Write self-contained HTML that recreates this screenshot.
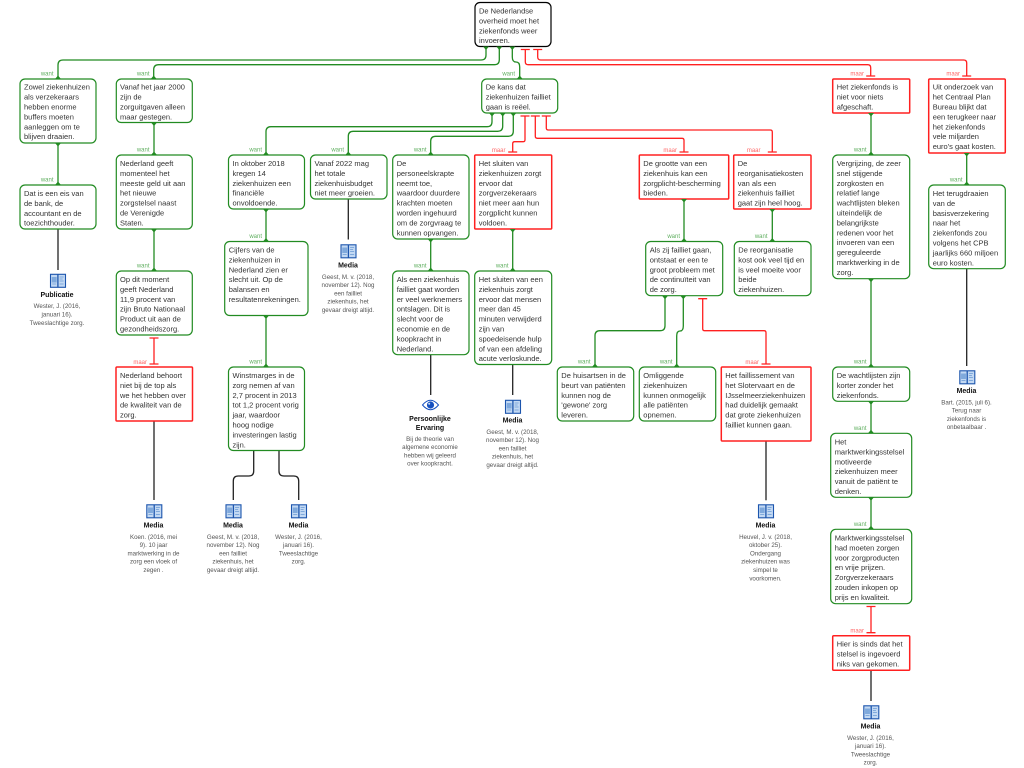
<!DOCTYPE html>
<html><head><meta charset="utf-8"><style>
html,body{margin:0;padding:0;background:#fff}
svg{display:block;filter:blur(.3px)}
text{font-family:"Liberation Sans",Arial,sans-serif}
.t{font-size:7.5px;fill:#333}
.w{font-size:6px;fill:#62b062;text-anchor:end}
.m{font-size:6px;fill:#ff6666;text-anchor:end}
.h{font-size:7px;font-weight:bold;fill:#111;text-anchor:middle}
.r{font-size:6.2px;fill:#555;text-anchor:middle}
.g{fill:#fff;stroke:#228b22;stroke-width:1.2}
.x{fill:#fff;stroke:#ff2020;stroke-width:1.5}
.k{fill:#fff;stroke:#000;stroke-width:1.2}
</style></head><body>
<svg width="1024" height="768" viewBox="0 0 1024 768" xmlns="http://www.w3.org/2000/svg">
<defs>
<g id="book"><rect x="0.5" y="0.8" width="15" height="13" fill="#c3d9f3" stroke="#1c55ad" stroke-width="1.1"/><path d="M7.9 0.8V13.8" stroke="#1c55ad" stroke-width="1.3"/><path d="M2.2 4h4v4.5h-4zM9.6 3.5h4M9.6 5.5h3M9.6 7.5h4M2.2 10.5h4M9.6 10.5h4" fill="#7fa9dc" stroke="#7fa9dc" stroke-width=".9"/></g>
</defs>

<!-- black connectors -->
<g fill="none" stroke="#222" stroke-width="1.3">
<path d="M58 229V270"/><path d="M154 421V500"/>
<path d="M253.7 450.5V471Q253.7 476 248.7 476H238.3Q233.3 476 233.3 481V500"/>
<path d="M279 450.5V471Q279 476 284 476H293.7Q298.7 476 298.7 481V500"/>
<path d="M348.3 199V239.5"/><path d="M430.7 354.7V395"/><path d="M512.7 364.5V395"/>
<path d="M766 441V500.3"/><path d="M966.7 268.7V366"/><path d="M871 670V701"/>
</g>

<!-- green connectors -->
<g fill="none" stroke="#228b22" stroke-width="1.3">
<path d="M486 46.5V55Q486 60 481 60H63Q58 60 58 65V79"/>
<path d="M499.3 46.5V59.7Q499.3 64.7 494.3 64.7H158.7Q153.7 64.7 153.7 69.7V79"/>
<path d="M512.3 46.5V57Q512.3 62 516 62Q519.7 62 519.7 67V79"/>
<path d="M58 143V185"/><path d="M154 122.5V155"/><path d="M154 229V271"/>
<path d="M492 113V121.7Q492 126.7 487 126.7H271Q266 126.7 266 131.7V155"/>
<path d="M502.7 113V126.3Q502.7 131.3 497.7 131.3H353.3Q348.3 131.3 348.3 136.3V155"/>
<path d="M513.3 113V131.3Q513.3 136.3 508.3 136.3H435.7Q430.7 136.3 430.7 141.3V155"/>
<path d="M266 209V241.5"/><path d="M266 315.5V367"/>
<path d="M430.7 239V271"/><path d="M512.7 229V271"/>
<path d="M684 199V241.5"/><path d="M772.3 209V241.5"/>
<path d="M665 295.7V325.7Q665 330.7 660 330.7H600Q595 330.7 595 335.7V367"/>
<path d="M683.3 295.7V326Q683.3 331 680 331Q676.7 331 676.7 336V367"/>
<path d="M871 113V155"/><path d="M871 278.7V367"/><path d="M871 401.3V433.3"/><path d="M871 497.3V529.3"/>
<path d="M966.7 153V185"/>
</g>

<!-- red connectors -->
<g fill="none" stroke="#ff2020" stroke-width="1.3">
<path d="M525.3 49.5V61.7Q525.3 64.7 528.3 64.7H867.7Q870.7 64.7 870.7 67.7V76"/>
<path d="M537.7 49.5V57Q537.7 60 540.7 60H963.7Q966.7 60 966.7 63V76"/>
<path d="M525 116V139.7Q525 141.7 523 141.7H514.7Q512.7 141.7 512.7 143.7V152"/>
<path d="M535.3 116V136.3Q535.3 138.3 537.3 138.3H682Q684 138.3 684 140.3V152"/>
<path d="M546.3 116V128Q546.3 130 548.3 130H770.3Q772.3 130 772.3 132V152"/>
<path d="M702.7 298.7V328.7Q702.7 330.7 704.7 330.7H764Q766 330.7 766 332.7V364"/>
<path d="M154 338V364"/>
<path d="M871 606.5V632.7"/>
<!-- T bars -->
<path d="M520.8 49.5H529.8M533.2 49.5H542.2M866.2 76H875.2M962.2 76H971.2"/>
<path d="M520.5 116H529.5M530.8 116H539.8M541.8 116H550.8M508.2 152H517.2M679.5 152H688.5M767.8 152H776.8"/>
<path d="M698.2 298.7H707.2M761.5 364H770.5M149.5 338H158.5M149.5 364H158.5M866.5 606.5H875.5M866.5 632.7H875.5"/>
</g>

<!-- nodes -->
<rect class="k" x="475" y="2.5" width="76" height="44" rx="5"/>
<rect class="g" x="20" y="79" width="76" height="64" rx="5"/>
<rect class="g" x="20" y="185" width="76" height="44" rx="5"/>
<rect class="g" x="116.3" y="79" width="76" height="43.5" rx="5"/>
<rect class="g" x="116.3" y="155" width="76" height="74" rx="5"/>
<rect class="g" x="116.3" y="271" width="76" height="64" rx="5"/>
<rect class="x" x="116" y="367" width="76.5" height="54" rx="1"/>
<rect class="g" x="228.5" y="155" width="76" height="54" rx="5"/>
<rect class="g" x="224.7" y="241.5" width="83.3" height="74" rx="5"/>
<rect class="g" x="228.5" y="367" width="76" height="83.5" rx="5"/>
<rect class="g" x="310.5" y="155" width="76.5" height="44" rx="5"/>
<rect class="g" x="392.7" y="155" width="76.3" height="84" rx="5"/>
<rect class="g" x="392.7" y="271" width="76.3" height="83.7" rx="5"/>
<rect class="x" x="474.7" y="155" width="77" height="74" rx="1"/>
<rect class="g" x="474.7" y="271" width="77" height="93.5" rx="5"/>
<rect class="g" x="481.7" y="79" width="76" height="34" rx="5"/>
<rect class="x" x="639.3" y="155" width="89.4" height="44" rx="1"/>
<rect class="x" x="733.7" y="155" width="77.3" height="54" rx="1"/>
<rect class="g" x="734.3" y="241.5" width="76.7" height="54.2" rx="5"/>
<rect class="g" x="645.7" y="241.5" width="77" height="54.2" rx="5"/>
<rect class="g" x="557.3" y="367" width="76.4" height="54" rx="5"/>
<rect class="g" x="639.3" y="367" width="76.4" height="54" rx="5"/>
<rect class="x" x="721.3" y="367" width="89.7" height="74" rx="1"/>
<rect class="x" x="832.7" y="79" width="77" height="34" rx="1"/>
<rect class="g" x="832.7" y="155" width="77" height="123.7" rx="5"/>
<rect class="g" x="832.7" y="367" width="77" height="34.3" rx="5"/>
<rect class="g" x="830.7" y="433.3" width="81" height="64" rx="5"/>
<rect class="g" x="830.7" y="529.3" width="81" height="74.4" rx="5"/>
<rect class="x" x="832.7" y="635.7" width="77" height="34.6" rx="1"/>
<rect class="x" x="928.7" y="79" width="76.6" height="74" rx="1"/>
<rect class="g" x="928.7" y="185" width="76.6" height="83.7" rx="5"/>

<!-- flares -->
<path fill="#228b22" d="M483 46.5h6l-3 3.5zM496.3 46.5h6l-3 3.5zM509.3 46.5h6l-3 3.5zM55 79h6l-3-3.5zM150.7 79h6l-3-3.5zM516.7 79h6l-3-3.5zM55 143h6l-3 3.5zM55 185h6l-3-3.5zM151 122.5h6l-3 3.5zM151 155h6l-3-3.5zM151 229h6l-3 3.5zM151 271h6l-3-3.5zM489 113h6l-3 3.5zM499.7 113h6l-3 3.5zM510.3 113h6l-3 3.5zM263 155h6l-3-3.5zM345.3 155h6l-3-3.5zM427.7 155h6l-3-3.5zM263 209h6l-3 3.5zM263 241.5h6l-3-3.5zM263 315.5h6l-3 3.5zM263 367h6l-3-3.5zM427.7 239h6l-3 3.5zM427.7 271h6l-3-3.5zM509.7 229h6l-3 3.5zM509.7 271h6l-3-3.5zM681 199h6l-3 3.5zM681 241.5h6l-3-3.5zM769.3 209h6l-3 3.5zM769.3 241.5h6l-3-3.5zM662 295.7h6l-3 3.5zM680.3 295.7h6l-3 3.5zM592 367h6l-3-3.5zM673.7 367h6l-3-3.5zM868 113h6l-3 3.5zM868 155h6l-3-3.5zM868 278.7h6l-3 3.5zM868 367h6l-3-3.5zM868 401.3h6l-3 3.5zM868 433.3h6l-3-3.5zM868 497.3h6l-3 3.5zM868 529.3h6l-3-3.5zM963.7 153h6l-3 3.5zM963.7 185h6l-3-3.5z"/>

<!-- node text -->
<text class="t" y="13.5"><tspan x="479">De Nederlandse</tspan><tspan x="479" dy="9.9">overheid moet het</tspan><tspan x="479" dy="9.9">ziekenfonds weer</tspan><tspan x="479" dy="9.9">invoeren.</tspan></text>
<text class="t" y="89.7"><tspan x="24">Zowel ziekenhuizen</tspan><tspan x="24" dy="9.9">als verzekeraars</tspan><tspan x="24" dy="9.9">hebben enorme</tspan><tspan x="24" dy="9.9">buffers moeten</tspan><tspan x="24" dy="9.9">aanleggen om te</tspan><tspan x="24" dy="9.9">blijven draaien.</tspan></text>
<text class="t" y="196"><tspan x="24">Dat is een eis van</tspan><tspan x="24" dy="9.9">de bank, de</tspan><tspan x="24" dy="9.9">accountant en de</tspan><tspan x="24" dy="9.9">toezichthouder.</tspan></text>
<text class="t" y="89.7"><tspan x="120">Vanaf het jaar 2000</tspan><tspan x="120" dy="9.9">zijn de</tspan><tspan x="120" dy="9.9">zorguitgaven alleen</tspan><tspan x="120" dy="9.9">maar gestegen.</tspan></text>
<text class="t" y="166"><tspan x="120">Nederland geeft</tspan><tspan x="120" dy="9.9">momenteel het</tspan><tspan x="120" dy="9.9">meeste geld uit aan</tspan><tspan x="120" dy="9.9">het nieuwe</tspan><tspan x="120" dy="9.9">zorgstelsel naast</tspan><tspan x="120" dy="9.9">de Verenigde</tspan><tspan x="120" dy="9.9">Staten.</tspan></text>
<text class="t" y="282"><tspan x="120">Op dit moment</tspan><tspan x="120" dy="9.9">geeft Nederland</tspan><tspan x="120" dy="9.9">11,9 procent van</tspan><tspan x="120" dy="9.9">zijn Bruto Nationaal</tspan><tspan x="120" dy="9.9">Product uit aan de</tspan><tspan x="120" dy="9.9">gezondheidszorg.</tspan></text>
<text class="t" y="378"><tspan x="120">Nederland behoort</tspan><tspan x="120" dy="9.9">niet bij de top als</tspan><tspan x="120" dy="9.9">we het hebben over</tspan><tspan x="120" dy="9.9">de kwaliteit van de</tspan><tspan x="120" dy="9.9">zorg.</tspan></text>
<text class="t" y="166"><tspan x="232.5">In oktober 2018</tspan><tspan x="232.5" dy="9.9">kregen 14</tspan><tspan x="232.5" dy="9.9">ziekenhuizen een</tspan><tspan x="232.5" dy="9.9">financiële</tspan><tspan x="232.5" dy="9.9">onvoldoende.</tspan></text>
<text class="t" y="252.5"><tspan x="228.7">Cijfers van de</tspan><tspan x="228.7" dy="9.9">ziekenhuizen in</tspan><tspan x="228.7" dy="9.9">Nederland zien er</tspan><tspan x="228.7" dy="9.9">slecht uit. Op de</tspan><tspan x="228.7" dy="9.9">balansen en</tspan><tspan x="228.7" dy="9.9">resultatenrekeningen.</tspan></text>
<text class="t" y="378"><tspan x="232.5">Winstmarges in de</tspan><tspan x="232.5" dy="9.9">zorg nemen af van</tspan><tspan x="232.5" dy="9.9">2,7 procent in 2013</tspan><tspan x="232.5" dy="9.9">tot 1,2 procent vorig</tspan><tspan x="232.5" dy="9.9">jaar, waardoor</tspan><tspan x="232.5" dy="9.9">hoog nodige</tspan><tspan x="232.5" dy="9.9">investeringen lastig</tspan><tspan x="232.5" dy="9.9">zijn.</tspan></text>
<text class="t" y="166"><tspan x="314.5">Vanaf 2022 mag</tspan><tspan x="314.5" dy="9.9">het totale</tspan><tspan x="314.5" dy="9.9">ziekenhuisbudget</tspan><tspan x="314.5" dy="9.9">niet meer groeien.</tspan></text>
<text class="t" y="166"><tspan x="396.7">De</tspan><tspan x="396.7" dy="9.9">personeelskrapte</tspan><tspan x="396.7" dy="9.9">neemt toe,</tspan><tspan x="396.7" dy="9.9">waardoor duurdere</tspan><tspan x="396.7" dy="9.9">krachten moeten</tspan><tspan x="396.7" dy="9.9">worden ingehuurd</tspan><tspan x="396.7" dy="9.9">om de zorgvraag te</tspan><tspan x="396.7" dy="9.9">kunnen opvangen.</tspan></text>
<text class="t" y="282"><tspan x="396.7">Als een ziekenhuis</tspan><tspan x="396.7" dy="9.9">failliet gaat worden</tspan><tspan x="396.7" dy="9.9">er veel werknemers</tspan><tspan x="396.7" dy="9.9">ontslagen. Dit is</tspan><tspan x="396.7" dy="9.9">slecht voor de</tspan><tspan x="396.7" dy="9.9">economie en de</tspan><tspan x="396.7" dy="9.9">koopkracht in</tspan><tspan x="396.7" dy="9.9">Nederland.</tspan></text>
<text class="t" y="166"><tspan x="478.7">Het sluiten van</tspan><tspan x="478.7" dy="9.9">ziekenhuizen zorgt</tspan><tspan x="478.7" dy="9.9">ervoor dat</tspan><tspan x="478.7" dy="9.9">zorgverzekeraars</tspan><tspan x="478.7" dy="9.9">niet meer aan hun</tspan><tspan x="478.7" dy="9.9">zorgplicht kunnen</tspan><tspan x="478.7" dy="9.9">voldoen.</tspan></text>
<text class="t" y="282"><tspan x="478.7">Het sluiten van een</tspan><tspan x="478.7" dy="9.9">ziekenhuis zorgt</tspan><tspan x="478.7" dy="9.9">ervoor dat mensen</tspan><tspan x="478.7" dy="9.9">meer dan 45</tspan><tspan x="478.7" dy="9.9">minuten verwijderd</tspan><tspan x="478.7" dy="9.9">zijn van</tspan><tspan x="478.7" dy="9.9">spoedeisende hulp</tspan><tspan x="478.7" dy="9.9">of van een afdeling</tspan><tspan x="478.7" dy="9.9">acute verloskunde.</tspan></text>
<text class="t" y="89.7"><tspan x="485.7">De kans dat</tspan><tspan x="485.7" dy="9.9">ziekenhuizen failliet</tspan><tspan x="485.7" dy="9.9">gaan is reëel.</tspan></text>
<text class="t" y="166"><tspan x="643.3">De grootte van een</tspan><tspan x="643.3" dy="9.9">ziekenhuis kan een</tspan><tspan x="643.3" dy="9.9">zorgplicht-bescherming</tspan><tspan x="643.3" dy="9.9">bieden.</tspan></text>
<text class="t" y="166"><tspan x="737.7">De</tspan><tspan x="737.7" dy="9.9">reorganisatiekosten</tspan><tspan x="737.7" dy="9.9">van als een</tspan><tspan x="737.7" dy="9.9">ziekenhuis failliet</tspan><tspan x="737.7" dy="9.9">gaat zijn heel hoog.</tspan></text>
<text class="t" y="252.5"><tspan x="738.3">De reorganisatie</tspan><tspan x="738.3" dy="9.9">kost ook veel tijd en</tspan><tspan x="738.3" dy="9.9">is veel moeite voor</tspan><tspan x="738.3" dy="9.9">beide</tspan><tspan x="738.3" dy="9.9">ziekenhuizen.</tspan></text>
<text class="t" y="252.5"><tspan x="649.7">Als zij failliet gaan,</tspan><tspan x="649.7" dy="9.9">ontstaat er een te</tspan><tspan x="649.7" dy="9.9">groot probleem met</tspan><tspan x="649.7" dy="9.9">de continuïteit van</tspan><tspan x="649.7" dy="9.9">de zorg.</tspan></text>
<text class="t" y="378"><tspan x="561.3">De huisartsen in de</tspan><tspan x="561.3" dy="9.9">beurt van patiënten</tspan><tspan x="561.3" dy="9.9">kunnen nog de</tspan><tspan x="561.3" dy="9.9">'gewone' zorg</tspan><tspan x="561.3" dy="9.9">leveren.</tspan></text>
<text class="t" y="378"><tspan x="643.3">Omliggende</tspan><tspan x="643.3" dy="9.9">ziekenhuizen</tspan><tspan x="643.3" dy="9.9">kunnen onmogelijk</tspan><tspan x="643.3" dy="9.9">alle patiënten</tspan><tspan x="643.3" dy="9.9">opnemen.</tspan></text>
<text class="t" y="378"><tspan x="725.3">Het faillissement van</tspan><tspan x="725.3" dy="9.9">het Slotervaart en de</tspan><tspan x="725.3" dy="9.9">IJsselmeerziekenhuizen</tspan><tspan x="725.3" dy="9.9">had duidelijk gemaakt</tspan><tspan x="725.3" dy="9.9">dat grote ziekenhuizen</tspan><tspan x="725.3" dy="9.9">failliet kunnen gaan.</tspan></text>
<text class="t" y="89.7"><tspan x="836.7">Het ziekenfonds is</tspan><tspan x="836.7" dy="9.9">niet voor niets</tspan><tspan x="836.7" dy="9.9">afgeschaft.</tspan></text>
<text class="t" y="166"><tspan x="836.7">Vergrijzing, de zeer</tspan><tspan x="836.7" dy="9.9">snel stijgende</tspan><tspan x="836.7" dy="9.9">zorgkosten en</tspan><tspan x="836.7" dy="9.9">relatief lange</tspan><tspan x="836.7" dy="9.9">wachtlijsten bleken</tspan><tspan x="836.7" dy="9.9">uiteindelijk de</tspan><tspan x="836.7" dy="9.9">belangrijkste</tspan><tspan x="836.7" dy="9.9">redenen voor het</tspan><tspan x="836.7" dy="9.9">invoeren van een</tspan><tspan x="836.7" dy="9.9">gereguleerde</tspan><tspan x="836.7" dy="9.9">marktwerking in de</tspan><tspan x="836.7" dy="9.9">zorg.</tspan></text>
<text class="t" y="378"><tspan x="836.7">De wachtlijsten zijn</tspan><tspan x="836.7" dy="9.9">korter zonder het</tspan><tspan x="836.7" dy="9.9">ziekenfonds.</tspan></text>
<text class="t" y="444.5"><tspan x="834.7">Het</tspan><tspan x="834.7" dy="9.9">marktwerkingsstelsel</tspan><tspan x="834.7" dy="9.9">motiveerde</tspan><tspan x="834.7" dy="9.9">ziekenhuizen meer</tspan><tspan x="834.7" dy="9.9">vanuit de patiënt te</tspan><tspan x="834.7" dy="9.9">denken.</tspan></text>
<text class="t" y="540.5"><tspan x="834.7">Marktwerkingsstelsel</tspan><tspan x="834.7" dy="9.9">had moeten zorgen</tspan><tspan x="834.7" dy="9.9">voor zorgproducten</tspan><tspan x="834.7" dy="9.9">en vrije prijzen.</tspan><tspan x="834.7" dy="9.9">Zorgverzekeraars</tspan><tspan x="834.7" dy="9.9">zouden inkopen op</tspan><tspan x="834.7" dy="9.9">prijs en kwaliteit.</tspan></text>
<text class="t" y="646.7"><tspan x="836.7">Hier is sinds dat het</tspan><tspan x="836.7" dy="9.9">stelsel is ingevoerd</tspan><tspan x="836.7" dy="9.9">niks van gekomen.</tspan></text>
<text class="t" y="89.7"><tspan x="932.7">Uit onderzoek van</tspan><tspan x="932.7" dy="9.9">het Centraal Plan</tspan><tspan x="932.7" dy="9.9">Bureau blijkt dat</tspan><tspan x="932.7" dy="9.9">een terugkeer naar</tspan><tspan x="932.7" dy="9.9">het ziekenfonds</tspan><tspan x="932.7" dy="9.9">vele miljarden</tspan><tspan x="932.7" dy="9.9">euro's gaat kosten.</tspan></text>
<text class="t" y="196"><tspan x="932.7">Het terugdraaien</tspan><tspan x="932.7" dy="9.9">van de</tspan><tspan x="932.7" dy="9.9">basisverzekering</tspan><tspan x="932.7" dy="9.9">naar het</tspan><tspan x="932.7" dy="9.9">ziekenfonds zou</tspan><tspan x="932.7" dy="9.9">volgens het CPB</tspan><tspan x="932.7" dy="9.9">jaarlijks 660 miljoen</tspan><tspan x="932.7" dy="9.9">euro kosten.</tspan></text>

<!-- connector labels -->
<text class="w" x="53.5" y="75.5">want</text>
<text class="w" x="53.5" y="181.5">want</text>
<text class="w" x="149.5" y="75.5">want</text>
<text class="w" x="149.5" y="151.5">want</text>
<text class="w" x="149.5" y="267.5">want</text>
<text class="w" x="515" y="75.5">want</text>
<text class="w" x="262" y="151.5">want</text>
<text class="w" x="262" y="238">want</text>
<text class="w" x="262" y="363.5">want</text>
<text class="w" x="344" y="151.5">want</text>
<text class="w" x="426.5" y="151.5">want</text>
<text class="w" x="426.5" y="267.5">want</text>
<text class="w" x="508.5" y="267.5">want</text>
<text class="w" x="680" y="238">want</text>
<text class="w" x="767.5" y="238">want</text>
<text class="w" x="590.5" y="363.5">want</text>
<text class="w" x="672.5" y="363.5">want</text>
<text class="w" x="866.5" y="151.5">want</text>
<text class="w" x="866.5" y="363.5">want</text>
<text class="w" x="866.5" y="430">want</text>
<text class="w" x="866.5" y="526">want</text>
<text class="w" x="962.5" y="181.5">want</text>
<text class="m" x="147" y="364">maar</text>
<text class="m" x="505.5" y="152">maar</text>
<text class="m" x="677" y="152">maar</text>
<text class="m" x="760.5" y="152">maar</text>
<text class="m" x="759" y="364">maar</text>
<text class="m" x="864" y="75.5">maar</text>
<text class="m" x="960" y="75.5">maar</text>
<text class="m" x="864" y="632.5">maar</text>

<!-- icons -->
<use href="#book" x="50" y="273.5"/>
<use href="#book" x="146.3" y="504"/>
<use href="#book" x="225.5" y="504"/>
<use href="#book" x="291" y="504"/>
<use href="#book" x="340.5" y="244"/>
<use href="#book" x="505" y="399.5"/>
<use href="#book" x="758" y="504"/>
<use href="#book" x="959.3" y="370"/>
<use href="#book" x="863.3" y="705"/>
<g transform="translate(422,399)"><path d="M0.5 6Q8.5 -3.5 16.5 6Q8.5 15.5 0.5 6Z" fill="#fff" stroke="#1550c0" stroke-width="1"/><circle cx="8.5" cy="6" r="3.6" fill="#1550c0"/><circle cx="7.2" cy="4.8" r="1" fill="#cfe0f5"/></g>

<!-- resource text -->
<text class="h" x="57" y="297">Publicatie</text>
<text class="r" y="308.2"><tspan x="57">Wester, J. (2016,</tspan><tspan x="57" dy="8.3">januari 16).</tspan><tspan x="57" dy="8.3">Tweeslachtige zorg.</tspan></text>

<text class="h" x="153.5" y="527.5">Media</text>
<text class="r" y="538.8"><tspan x="153.5">Koen. (2016, mei</tspan><tspan x="153.5" dy="8.3">9). 10 jaar</tspan><tspan x="153.5" dy="8.3">marktwerking in de</tspan><tspan x="153.5" dy="8.3">zorg een vloek of</tspan><tspan x="153.5" dy="8.3">zegen .</tspan></text>

<text class="h" x="233" y="527.5">Media</text>
<text class="r" y="538.8"><tspan x="233">Geest, M. v. (2018,</tspan><tspan x="233" dy="8.3">november 12). Nog</tspan><tspan x="233" dy="8.3">een failliet</tspan><tspan x="233" dy="8.3">ziekenhuis, het</tspan><tspan x="233" dy="8.3">gevaar dreigt altijd.</tspan></text>

<text class="h" x="298.5" y="527.5">Media</text>
<text class="r" y="538.8"><tspan x="298.5">Wester, J. (2016,</tspan><tspan x="298.5" dy="8.3">januari 16).</tspan><tspan x="298.5" dy="8.3">Tweeslachtige</tspan><tspan x="298.5" dy="8.3">zorg.</tspan></text>

<text class="h" x="348" y="267.5">Media</text>
<text class="r" y="278.8"><tspan x="348">Geest, M. v. (2018,</tspan><tspan x="348" dy="8.3">november 12). Nog</tspan><tspan x="348" dy="8.3">een failliet</tspan><tspan x="348" dy="8.3">ziekenhuis, het</tspan><tspan x="348" dy="8.3">gevaar dreigt altijd.</tspan></text>

<text class="h" x="430" y="421"><tspan x="430">Persoonlijke</tspan><tspan x="430" dy="9">Ervaring</tspan></text>
<text class="r" y="440.8"><tspan x="430">Bij de theorie van</tspan><tspan x="430" dy="8.3">algemene economie</tspan><tspan x="430" dy="8.3">hebben wij geleerd</tspan><tspan x="430" dy="8.3">over koopkracht.</tspan></text>

<text class="h" x="512.5" y="422.5">Media</text>
<text class="r" y="433.8"><tspan x="512.5">Geest, M. v. (2018,</tspan><tspan x="512.5" dy="8.3">november 12). Nog</tspan><tspan x="512.5" dy="8.3">een failliet</tspan><tspan x="512.5" dy="8.3">ziekenhuis, het</tspan><tspan x="512.5" dy="8.3">gevaar dreigt altijd.</tspan></text>

<text class="h" x="765.5" y="527.5">Media</text>
<text class="r" y="538.8"><tspan x="765.5">Heuvel, J. v. (2018,</tspan><tspan x="765.5" dy="8.3">oktober 25).</tspan><tspan x="765.5" dy="8.3">Ondergang</tspan><tspan x="765.5" dy="8.3">ziekenhuizen was</tspan><tspan x="765.5" dy="8.3">simpel te</tspan><tspan x="765.5" dy="8.3">voorkomen.</tspan></text>

<text class="h" x="966.5" y="393">Media</text>
<text class="r" y="404.3"><tspan x="966.5">Bart. (2015, juli 6).</tspan><tspan x="966.5" dy="8.3">Terug naar</tspan><tspan x="966.5" dy="8.3">ziekenfonds is</tspan><tspan x="966.5" dy="8.3">onbetaalbaar .</tspan></text>

<text class="h" x="870.5" y="728.5">Media</text>
<text class="r" y="739.8"><tspan x="870.5">Wester, J. (2016,</tspan><tspan x="870.5" dy="8.3">januari 16).</tspan><tspan x="870.5" dy="8.3">Tweeslachtige</tspan><tspan x="870.5" dy="8.3">zorg.</tspan></text>
</svg>
</body></html>
